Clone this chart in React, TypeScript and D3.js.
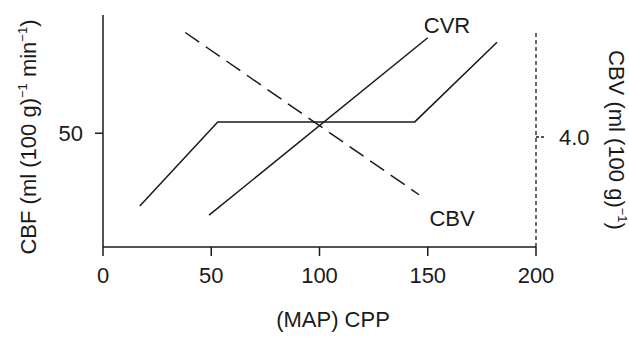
import React from "react";
import * as d3 from "d3";

// curves (x = CPP, y in CBF units, cbv in its own units)
const cbfX = [17, 53, 144, 182];
const cbfY = [18, 55, 55, 90];
const cvrX = [49, 150];
const cvrY = [14, 92];
const cbvX = [38, 146];
const cbvY = [7.8, 1.9];
const xTicks = [0, 50, 100, 150, 200];
const leftTicks = [50];
const rightTicks = [4.0];

const W = 629;
const H = 338;
const font = "'Liberation Sans', Arial, Helvetica, sans-serif";
const ink = "#1a1a1a";

const App = () => {
  const x = d3.scaleLinear().domain([0, 200]).range([103, 536]);
  const y = d3.scaleLinear().domain([0, 102]).range([247, 15]);
  const y2 = d3.scaleLinear().domain([0, 8]).range([247, 27]);

  const line = d3.line<[number, number]>().x(d => x(d[0])).y(d => y(d[1]));
  const line2 = d3.line<[number, number]>().x(d => x(d[0])).y(d => y2(d[1]));

  const cbf = cbfX.map((v, i) => [v, cbfY[i]] as [number, number]);
  const cvr = cvrX.map((v, i) => [v, cvrY[i]] as [number, number]);
  const cbv = cbvX.map((v, i) => [v, cbvY[i]] as [number, number]);

  const fs = 22;
  const sup = 13;

  return (
    <svg width={W} height={H} style={{ position: "absolute", left: 0, top: 0, background: "#fff" }}
      fontFamily={font} fill={ink}>
      {/* axes */}
      <line x1={x(0)} x2={x(200)} y1={y(0)} y2={y(0)} stroke={ink} strokeWidth={1.5} />
      <line x1={x(0)} x2={x(0)} y1={y(0)} y2={y(102)} stroke={ink} strokeWidth={1.5} />
      <line x1={x(200)} x2={x(200)} y1={y2(0)} y2={y2(7.85)} stroke={ink} strokeWidth={1.3}
        strokeDasharray="4,3" />
      {xTicks.map(t => (
        <g key={t}>
          <line x1={x(t)} x2={x(t)} y1={y(0)} y2={y(0) + 9} stroke={ink} strokeWidth={1.5} />
          <text x={x(t)} y={y(0) + 36} fontSize={fs} textAnchor="middle">{t}</text>
        </g>
      ))}
      {leftTicks.map(t => (
        <g key={t}>
          <line x1={x(0) - 8} x2={x(0)} y1={y(t)} y2={y(t)} stroke={ink} strokeWidth={1.5} />
          <text x={x(0) - 20} y={y(t) + 8} fontSize={fs} textAnchor="end">{t}</text>
        </g>
      ))}
      {rightTicks.map(t => (
        <g key={t}>
          <line x1={x(200)} x2={x(200) + 10} y1={y2(t)} y2={y2(t)} stroke={ink} strokeWidth={1.3}
            strokeDasharray="3,2" />
          <text x={x(200) + 23} y={y2(t) + 8} fontSize={fs}>{t.toFixed(1)}</text>
        </g>
      ))}

      {/* curves */}
      <path d={line(cbf) ?? ""} fill="none" stroke={ink} strokeWidth={1.5} />
      <path d={line(cvr) ?? ""} fill="none" stroke={ink} strokeWidth={1.5} />
      <path d={line2(cbv) ?? ""} fill="none" stroke={ink} strokeWidth={1.5} strokeDasharray="17,8" />

      <text x={447} y={33} fontSize={fs} textAnchor="middle">CVR</text>
      <text x={452} y={226} fontSize={fs} textAnchor="middle">CBV</text>

      {/* axis titles */}
      <text x={333} y={327} fontSize={fs} textAnchor="middle">(MAP) CPP</text>
      <text transform="translate(36,137) rotate(-90)" fontSize={fs} textAnchor="middle">
        CBF (ml (100 g)<tspan dy={-9} fontSize={sup}>−1</tspan><tspan dy={9}> min</tspan>
        <tspan dy={-9} fontSize={sup}>−1</tspan><tspan dy={9}>)</tspan>
      </text>
      <text transform="translate(609,140) rotate(90)" fontSize={fs} textAnchor="middle">
        CBV (ml (100 g)<tspan dy={-9} fontSize={sup}>−1</tspan><tspan dy={9}>)</tspan>
      </text>
    </svg>
  );
};

export default App;
